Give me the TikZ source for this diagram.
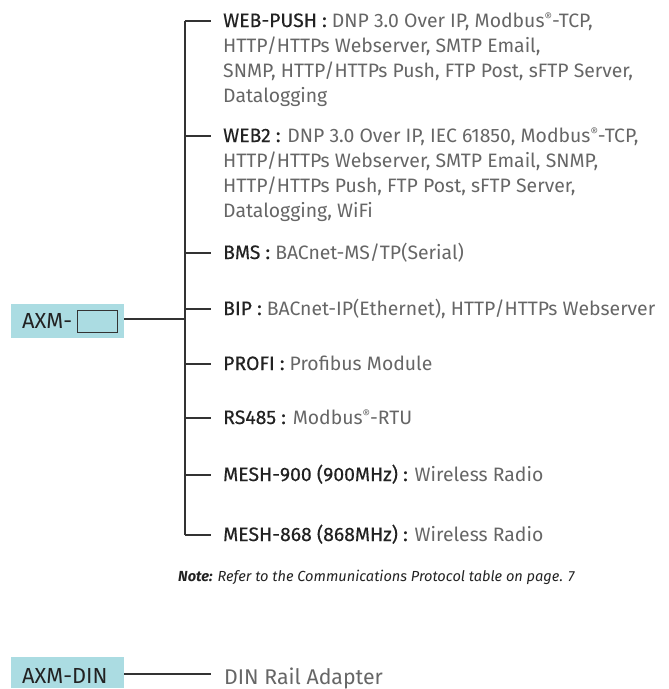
\documentclass[tikz,border=0pt]{standalone}
\usepackage{fontspec}
\setmainfont{Fira Sans}
\newfontfamily\labfont{Fira Sans}[FakeBold=0.35]
\definecolor{boxfill}{HTML}{ABDCE2}
\definecolor{bodytxt}{HTML}{666666}
\definecolor{labtxt}{HTML}{222222}
\definecolor{linecol}{HTML}{333333}
\newcommand{\lab}[1]{{\labfont\color{labtxt}#1}}
\newcommand{\reg}{\raisebox{0.55ex}{\scalebox{0.6}{®}}}
\newcommand{\itemtext}[1]{\begin{tabular}[t]{@{}l@{}}#1\end{tabular}}
\tikzset{
  conn/.style={draw=linecol, line width=1.2pt},
  item/.style={anchor=base west, inner sep=0pt, text=bodytxt, font=\fontsize{19.4}{25.3}\selectfont},
  axmbox/.style={fill=boxfill, anchor=north west, minimum width=113pt, minimum height=34pt, inner sep=0pt},
  axmtxt/.style={anchor=base west, inner sep=0pt, text=labtxt, font=\fontsize{21.8}{26}\selectfont},
}
\begin{document}
\begin{tikzpicture}[x=1pt, y=-1pt]
\useasboundingbox (0,0) rectangle (669,689);
% AXM box
\node[axmbox] (axm) at (11,304) {};
\node[axmtxt] (axmlbl) at (22,328) {AXM-};
\node[draw=linecol, line width=1.2pt, minimum width=40pt, minimum height=22pt, inner sep=0pt, anchor=north west] (slot) at (77,310) {};
\coordinate (hub) at (185,319);
% items
\node[item] (webpush) at (223,27) {\itemtext{\lab{WEB-PUSH :} DNP 3.0 Over IP, Modbus\reg-TCP,\\HTTP/HTTPs Webserver, SMTP Email,\\SNMP, HTTP/HTTPs Push, FTP Post, sFTP Server,\\Datalogging}};
\node[item] (web2) at (223,142) {\itemtext{\lab{WEB2 :} DNP 3.0 Over IP, IEC 61850, Modbus\reg-TCP,\\HTTP/HTTPs Webserver, SMTP Email, SNMP,\\HTTP/HTTPs Push, FTP Post, sFTP Server,\\Datalogging, WiFi}};
\node[item] (bms) at (223,259) {\lab{BMS :} BACnet-MS/TP(Serial)};
\node[item] (bip) at (223,315) {\lab{BIP :} BACnet-IP(Ethernet), HTTP/HTTPs Webserver};
\node[item] (profi) at (223,370) {\lab{PROFI :} Profibus Module};
\node[item] (rs485) at (223,424) {\lab{RS485 :} Modbus\reg-RTU};
\node[item] (mesh900) at (223,481) {\lab{MESH-900 (900MHz) :} Wireless Radio};
\node[item] (mesh868) at (223,541) {\lab{MESH-868 (868MHz) :} Wireless Radio};
\foreach \n/\y in {webpush/21, web2/136, bms/253, bip/309, profi/364, rs485/418, mesh900/475, mesh868/535}{
  \coordinate (\n-tick) at (211,\y);
}
% connectors
\draw[conn] (axm.east |- hub) -- (hub);
\draw[conn] (webpush-tick -| hub) -- (mesh868-tick -| hub);
\foreach \n in {webpush, web2, bms, bip, profi, rs485, mesh900, mesh868}{
  \draw[conn] (\n-tick -| hub) -- (\n-tick);
}
% note
\node[anchor=base west, inner sep=0pt, text=labtxt, font=\fontsize{14.6}{17}\selectfont\itshape] (note) at (178,581) {\textbf{Note:} Refer to the Communications Protocol table on page. 7};
% DIN
\node[axmbox, minimum height=31pt] (din) at (11,657) {};
\node[axmtxt] (dinlbl) at (22,683) {AXM-DIN};
\node[anchor=base west, inner sep=0pt, text=bodytxt, font=\fontsize{21.3}{25}\selectfont] (dintxt) at (224,684) {DIN Rail Adapter};
\coordinate (dinend) at (211,674);
\draw[conn] (din.east |- dinend) -- (dinend);
\end{tikzpicture}
\end{document}
